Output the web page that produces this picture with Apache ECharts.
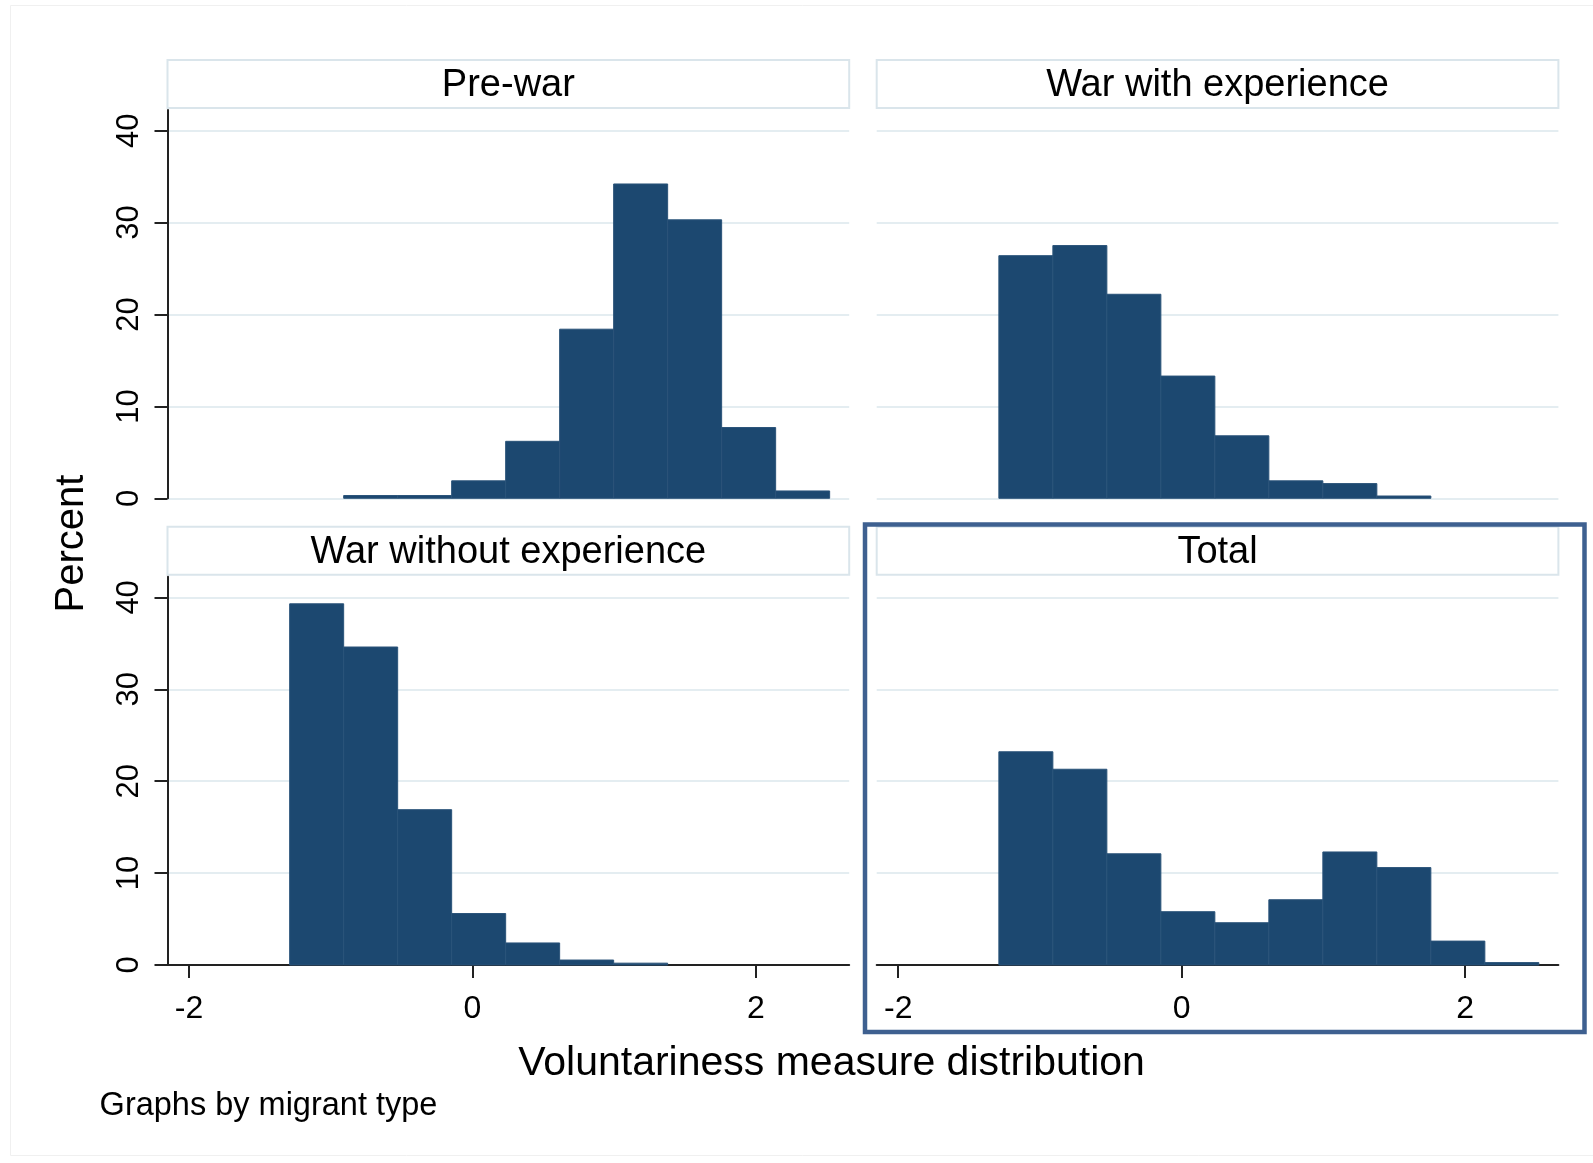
<!DOCTYPE html>
<html>
<head>
<meta charset="utf-8">
<title>Voluntariness measure distribution</title>
<script src="https://cdn.jsdelivr.net/npm/echarts@6.0.0/dist/echarts.min.js"></script>
<style>
    html, body { margin: 0; padding: 0; background: #ffffff; }
    #main { width: 1593px; height: 1163px; }
</style>
</head>
<body>
<div id="main"></div>
<script type="text/javascript">
    // histogram bins (shared by all panels)
    var binEdges = [-1.29, -0.909, -0.528, -0.147, 0.234, 0.615, 0.996, 1.377, 1.758, 2.139, 2.52];

    // percent per bin
    var preWar      = [0, 0.3, 0.3, 1.9, 6.2, 18.4, 34.2, 30.3, 7.7, 0.8];
    var warWithExp  = [26.4, 27.5, 22.2, 13.3, 6.8, 1.9, 1.6, 0.25, 0, 0];
    var warNoExp    = [39.3, 34.6, 16.9, 5.6, 2.4, 0.54, 0.2, 0, 0, 0];
    var totalAll    = [23.2, 21.3, 12.1, 5.8, 4.6, 7.1, 12.3, 10.6, 2.6, 0.26];

    var panelTitles = ['Pre-war', 'War with experience', 'War without experience', 'Total'];
    var panelValues = [preWar, warWithExp, warNoExp, totalAll];

    var xTicks = [-2, 0, 2];
    var yTicks = [0, 10, 20, 30, 40];

    var FONT = '"Liberation Sans", Arial, sans-serif';
    var BAR = '#1c4870';
    var GRIDLINE = '#e4edf1';
    var AXIS = '#222222';

    // panel layout: [left, top]
    var panelPos = [[167.5, 110], [876.7, 110], [167.5, 576.7], [876.7, 576.7]];
    var panelW = 681.7, panelH = 388.3;

    function binData(values) {
        var out = [];
        for (var i = 0; i < values.length; i++) {
            out.push([binEdges[i], binEdges[i + 1], values[i]]);
        }
        return out;
    }

    function renderBin(params, api) {
        if (api.value(2) <= 0) return;
        var p0 = api.coord([api.value(0), api.value(2)]);
        var p1 = api.coord([api.value(1), 0]);
        return {
            type: 'rect',
            shape: { x: p0[0], y: p0[1], width: p1[0] - p0[0], height: p1[1] - p0[1] },
            style: { fill: BAR, stroke: '#2a5379', lineWidth: 1 }
        };
    }

    var grids = [], xAxes = [], yAxes = [], series = [], graphics = [];

    for (var k = 0; k < 4; k++) {
        var isLeft = (k % 2 === 0);
        var isBottom = (k >= 2);
        grids.push({ left: panelPos[k][0], top: panelPos[k][1], width: panelW, height: panelH });

        xAxes.push({
            type: 'value', gridIndex: k, min: -2.152, max: 2.658,
            show: isBottom,
            axisLine: { show: true, onZero: false, lineStyle: { color: AXIS, width: 2 } },
            axisTick: { show: true, length: 13, customValues: xTicks, lineStyle: { color: AXIS, width: 2 } },
            axisLabel: { show: true, customValues: xTicks, margin: 28, fontSize: 32, color: '#000', fontFamily: FONT },
            splitLine: { show: false }
        });

        yAxes.push({
            type: 'value', gridIndex: k, min: 0, max: 42.25,
            axisLine: { show: isLeft, onZero: false, lineStyle: { color: AXIS, width: 2 } },
            axisTick: { show: isLeft, length: 13, customValues: yTicks, lineStyle: { color: AXIS, width: 2 } },
            axisLabel: { show: isLeft, customValues: yTicks, rotate: 90, margin: 23, fontSize: 31, color: '#000', fontFamily: FONT },
            splitLine: { show: true, lineStyle: { color: GRIDLINE, width: 2 } }
        });

        series.push({
            type: 'custom', name: panelTitles[k], xAxisIndex: k, yAxisIndex: k,
            renderItem: renderBin,
            encode: { x: [0, 1], y: 2 },
            data: binData(panelValues[k]),
            z: 2
        });

        // panel heading box
        var boxTop = panelPos[k][1] - 50;
        graphics.push({
            type: 'rect',
            shape: { x: panelPos[k][0], y: boxTop, width: panelW, height: 48 },
            style: { fill: '#ffffff', stroke: '#dae5eb', lineWidth: 2 }
        });
        graphics.push({
            type: 'text',
            x: panelPos[k][0] + panelW / 2, y: boxTop + 25.5,
            style: { text: panelTitles[k], font: '38px ' + FONT, fill: '#000', align: 'center', verticalAlign: 'middle' }
        });
    }

    // outline around the Total panel
    graphics.push({
        type: 'rect',
        shape: { x: 865, y: 524.5, width: 719.5, height: 507.5 },
        style: { fill: 'none', stroke: '#3e6090', lineWidth: 4.5 },
        z: 100
    });
    // faint graph region frame
    graphics.push({
        type: 'rect',
        shape: { x: 10.5, y: 5.5, width: 1590, height: 1150 },
        style: { fill: 'none', stroke: '#f0f0f0', lineWidth: 1 }
    });
    graphics.push({
        type: 'text', x: 71.5, y: 543.6, rotation: Math.PI / 2,
        style: { text: 'Percent', font: '40px ' + FONT, fill: '#000', align: 'center', verticalAlign: 'middle' }
    });
    graphics.push({
        type: 'text', x: 831.5, y: 1064,
        style: { text: 'Voluntariness measure distribution', font: '41px ' + FONT, fill: '#000', align: 'center', verticalAlign: 'middle' }
    });
    graphics.push({
        type: 'text', x: 99.6, y: 1106.5,
        style: { text: 'Graphs by migrant type', font: '32.5px ' + FONT, fill: '#000', align: 'left', verticalAlign: 'middle' }
    });

    var myChart = echarts.init(document.getElementById('main'), null, { renderer: 'canvas' });
    myChart.setOption({
        backgroundColor: '#ffffff',
        animation: false,
        grid: grids,
        xAxis: xAxes,
        yAxis: yAxes,
        series: series,
        graphic: graphics
    });
</script>
</body>
</html>
